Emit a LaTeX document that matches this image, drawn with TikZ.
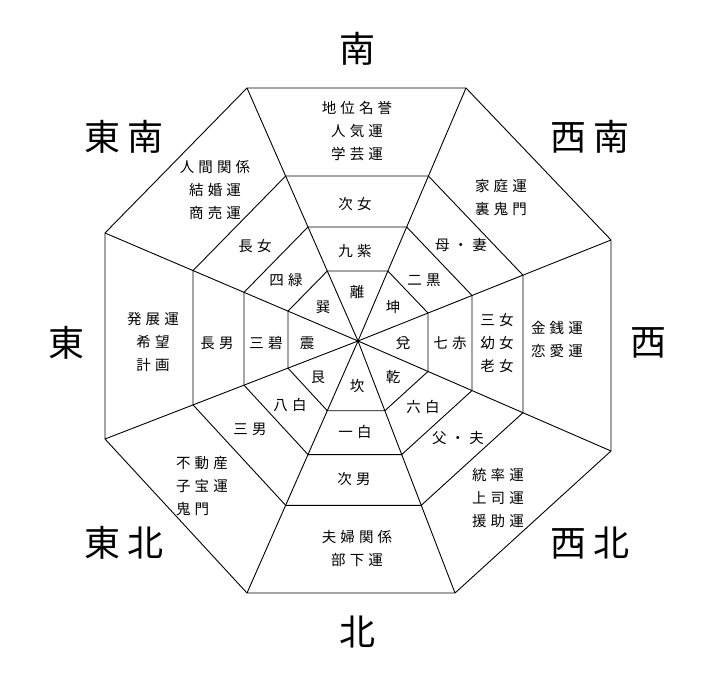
\documentclass[tikz,border=0pt]{standalone}
\usepackage{fontspec}
\newfontfamily\jp[LetterSpace=28]{Noto Sans CJK JP}
\newfontfamily\jpbig[LetterSpace=20]{Noto Sans CJK JP}
\usetikzlibrary{calc}
\begin{document}
\begin{tikzpicture}[x=1pt,y=-1pt,
  lbl/.style={font=\jp\fontsize{14.5}{23}\selectfont, align=center, inner sep=0pt},
  dirlbl/.style={font=\jpbig\fontsize{36}{40}\selectfont, inner sep=0pt},
  ln/.style={line width=0.9pt, line join=miter}]
\useasboundingbox (0,0) rectangle (709,682);
\coordinate (c) at (358,341);
\coordinate (o1) at (247,88);
\coordinate (o2) at (466,88);
\coordinate (o3) at (611,240);
\coordinate (o4) at (611,451);
\coordinate (o5) at (455,593);
\coordinate (o6) at (247,593);
\coordinate (o7) at (105,439);
\coordinate (o8) at (105,233);
\foreach \r/\s in {a/0.652,b/0.4506,d/0.2767}{
  \foreach \i in {1,...,8}{
    \coordinate (\r\i) at ($(c)!\s!(o\i)$);
  }
}
\foreach \r in {o,a,b,d}{
  \draw[ln] (\r1)--(\r2)--(\r3)--(\r4)--(\r5)--(\r6)--(\r7)--(\r8)--cycle;
}
\foreach \i in {1,...,8}{
  \draw[ln] (c)--(o\i);
}
% outer ring
\node[lbl] (fS) at (357,131) {地位名誉\\人気運\\学芸運};
\node[lbl] (fSW) at (501,198) {家庭運\\裏鬼門};
\node[lbl] (fW) at (557,339) {金銭運\\恋愛運};
\node[lbl] (fNW) at (498,498) {統率運\\上司運\\援助運};
\node[lbl] (fN) at (357,548) {夫婦関係\\部下運};
\node[lbl, align=left, anchor=west] (fNE) at (176,486) {不動産\\子宝運\\鬼門};
\node[lbl] (fE) at (153,342) {発展運\\希望\\計画};
\node[lbl] (fSE) at (215,190) {人間関係\\結婚運\\商売運};
% ring 2
\node[lbl] (pS) at (355,204) {次女};
\node[lbl] (pSW) at (461,245) {母・妻};
\node[lbl] (pW) at (497,343) {三女\\幼女\\老女};
\node[lbl] (pNW) at (458,438) {父・夫};
\node[lbl] (pN) at (354,479) {次男};
\node[lbl] (pNE) at (250,429) {三男};
\node[lbl] (pE) at (217,343) {長男};
\node[lbl] (pSE) at (255,246) {長女};
% ring 3
\node[lbl] (sS) at (355,251) {九紫};
\node[lbl] (sSW) at (424,280) {二黒};
\node[lbl] (sW) at (450,343) {七赤};
\node[lbl] (sNW) at (423,407) {六白};
\node[lbl] (sN) at (355,432) {一白};
\node[lbl] (sNE) at (290,405) {八白};
\node[lbl] (sE) at (266,343) {三碧};
\node[lbl] (sSE) at (286,280) {四緑};
% ring 4
\node[lbl] (tS) at (357,292) {離};
\node[lbl] (tSW) at (393,307) {坤};
\node[lbl] (tW) at (403,343) {兌};
\node[lbl] (tNW) at (393,377) {乾};
\node[lbl] (tN) at (357,386) {坎};
\node[lbl] (tNE) at (318,377) {艮};
\node[lbl] (tE) at (307,343) {震};
\node[lbl] (tSE) at (323,307) {巽};
% directions
\node[dirlbl] (dS) at (357,49) {南};
\node[dirlbl] (dSE) at (124,137) {東南};
\node[dirlbl] (dSW) at (590,137) {西南};
\node[dirlbl] (dE) at (66,343) {東};
\node[dirlbl] (dW) at (648,343) {西};
\node[dirlbl] (dNE) at (124,543) {東北};
\node[dirlbl] (dNW) at (590,543) {西北};
\node[dirlbl] (dN) at (357,632) {北};
\end{tikzpicture}
\end{document}
